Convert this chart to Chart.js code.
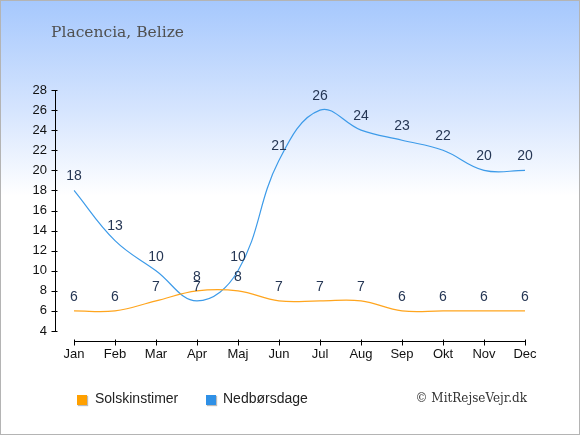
<!DOCTYPE html>
<html>
<head>
<meta charset="utf-8">
<script src="https://cdn.jsdelivr.net/npm/chart.js@4"></script>
<style>
  html, body { margin: 0; padding: 0; }
  #wrap {
    position: relative; width: 578px; height: 433px;
    border: 1px solid #b4b4b4;
    background: linear-gradient(to bottom, #a6c8fd 0px, #d6e5fe 110px, #ffffff 195px, #ffffff 100%);
    overflow: hidden;
  }
  canvas { position: absolute; left: -1px; top: -1px; }
  .title { position: absolute; left: 50px; top: 22px; font: 15.5px "DejaVu Serif", serif; color: #505050; }
  .leg { position: absolute; top: 389px; font: 14px "Liberation Sans", Arial, sans-serif; color: #222; }
  .box { position: absolute; top: 5px; width: 10px; height: 10px; box-shadow: 1px 1px 1px #bbb; }
  .copy { position: absolute; right: 52px; top: 390px; font: 12px "DejaVu Serif", serif; color: #333; }
</style>
</head>
<body>
<div id="wrap">
  <canvas id="c" width="580" height="435"></canvas>
  <div class="title">Placencia, Belize</div>
  <div class="leg" style="left:76px"><span class="box" style="left:0;background:#ffa000"></span><span style="margin-left:18px">Solskinstimer</span></div>
  <div class="leg" style="left:205px"><span class="box" style="left:0;background:#2f90e6"></span><span style="margin-left:17px">Nedbørsdage</span></div>
  <div class="copy">© MitRejseVejr.dk</div>
</div>
<script>
// data
var months = ["Jan", "Feb", "Mar", "Apr", "Maj", "Jun", "Jul", "Aug", "Sep", "Okt", "Nov", "Dec"];
var solskinstimer = [6, 6, 7, 8, 8, 7, 7, 7, 6, 6, 6, 6];
var nedboersdage = [18, 13, 10, 7, 10, 21, 26, 24, 23, 22, 20, 20];
var yTicks = [4, 6, 8, 10, 12, 14, 16, 18, 20, 22, 24, 26, 28];

// tal over punkterne og akselinjer
var labelPlugin = {
    id: 'labels',
    afterDatasetsDraw: function (chart) {
        var ctx = chart.ctx;
        ctx.save();
        ctx.font = '14px "Liberation Sans", Arial, sans-serif';
        ctx.fillStyle = '#253654';
        ctx.textAlign = 'center';
        ctx.textBaseline = 'middle';
        chart.data.datasets.forEach(function (ds, i) {
            var meta = chart.getDatasetMeta(i);
            meta.data.forEach(function (pt, j) {
                ctx.fillText(ds.data[j], pt.x, pt.y - 14);
            });
        });
        ctx.restore();
    },
    afterDraw: function (chart) {
        var ctx = chart.ctx;
        var x = chart.scales.x, y = chart.scales.y;
        var axisX = 55.5, axisY = 341.5;
        ctx.save();
        ctx.strokeStyle = '#000';
        ctx.lineWidth = 1;
        ctx.beginPath();
        ctx.moveTo(axisX, y.getPixelForValue(28));
        ctx.lineTo(axisX, y.getPixelForValue(4));
        yTicks.forEach(function (v) {
            var py = Math.round(y.getPixelForValue(v)) + 0.5;
            ctx.moveTo(axisX - 4, py);
            ctx.lineTo(axisX + 2, py);
        });
        ctx.moveTo(x.getPixelForValue(0), axisY);
        ctx.lineTo(x.getPixelForValue(11), axisY);
        months.forEach(function (m, i) {
            var px = Math.round(x.getPixelForValue(i)) + 0.5;
            ctx.moveTo(px, axisY - 2);
            ctx.lineTo(px, axisY + 4);
        });
        ctx.stroke();
        ctx.restore();
    }
};

var chart = new Chart(document.getElementById('c'), {
    type: 'line',
    data: {
        labels: months,
        datasets: [{
            label: 'Solskinstimer',
            data: solskinstimer,
            borderColor: '#ffa51e',
            borderWidth: 1.2,
            pointRadius: 0,
            tension: 0.4,
            fill: false
        }, {
            label: 'Nedbørsdage',
            data: nedboersdage,
            borderColor: '#3d9be9',
            borderWidth: 1.2,
            pointRadius: 0,
            tension: 0.4,
            fill: false
        }]
    },
    options: {
        responsive: false,
        animation: false,
        layout: { padding: { top: 90, right: 55, bottom: 73, left: 0 } },
        plugins: { legend: { display: false }, tooltip: { enabled: false } },
        scales: {
            x: {
                offset: false,
                grid: { display: false, drawTicks: false },
                border: { display: false },
                ticks: { padding: 16, color: '#111', font: { size: 13, family: '"Liberation Sans", Arial, sans-serif' }, maxRotation: 0 },
                afterFit: function (axis) { axis.height = 31; }
            },
            y: {
                min: 4,
                max: 28,
                grid: { display: false, drawTicks: false },
                border: { display: false },
                afterBuildTicks: function (axis) { axis.ticks = yTicks.map(function (v) { return { value: v }; }); },
                ticks: { padding: 27, color: '#111', font: { size: 13, family: '"Liberation Sans", Arial, sans-serif' } },
                afterFit: function (axis) { axis.width = 74; }
            }
        }
    },
    plugins: [labelPlugin]
});
</script>
</body>
</html>
